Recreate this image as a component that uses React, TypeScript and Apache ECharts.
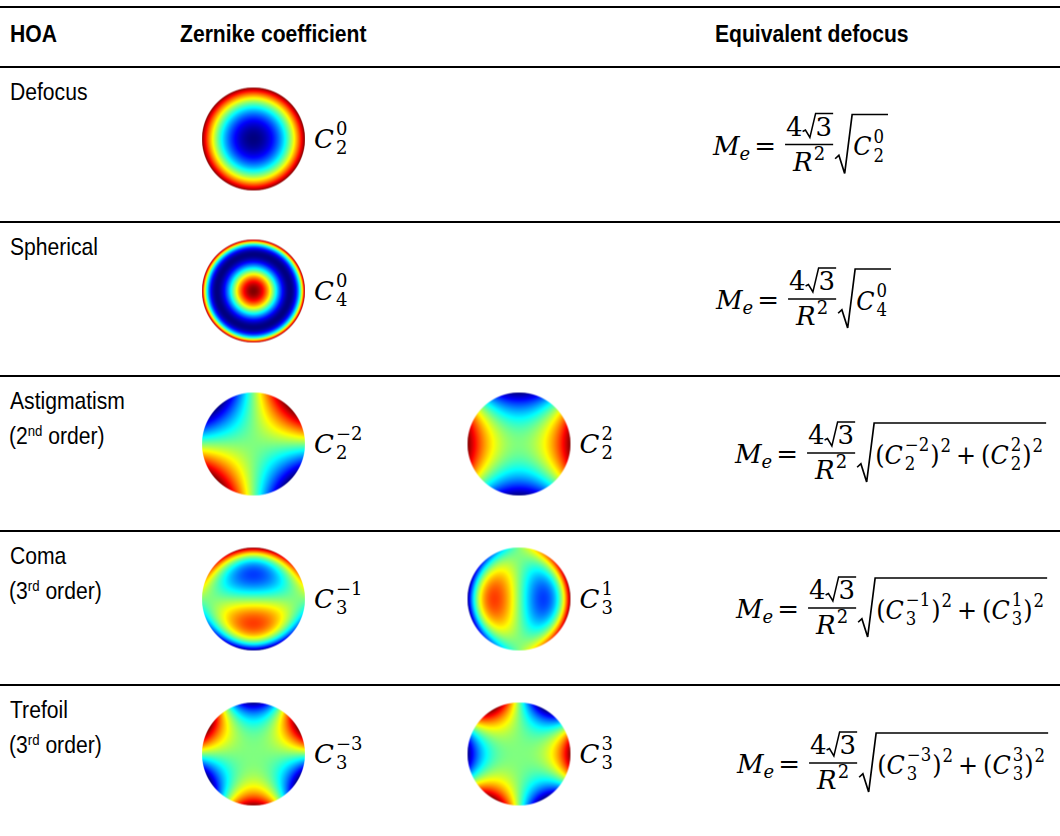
import React, { useEffect, useRef } from "react";
import * as echarts from "echarts";

// ---------------- data ----------------
const HEADERS = ["HOA", "Zernike coefficient", "Equivalent defocus"];
const HOA_NAMES = ["Defocus", "Spherical", "Astigmatism", "Coma", "Trefoil"];
const ORDER_NUMBERS = ["", "", "2", "3", "3"];
const ORDER_SUFFIXES = ["", "", "nd", "rd", "rd"];
const ORDER_WORD = " order)";
// Zernike indices (n, m) shown in each row
const ZERNIKE_N = [[2], [4], [2, 2], [3, 3], [3, 3]];
const ZERNIKE_M = [[0], [0], [-2, 2], [-1, 1], [-3, 3]];
// equivalent defocus formula pieces
const MEQ_SYMBOL = "M";
const MEQ_SUB = "e";
const FRAC_NUM = ["4", "3"];
const FRAC_DEN = ["R", "2"];
const COEF_SYMBOL = "C";

// ---------------- layout ----------------
const W = 1060;
const H = 836;
const RULE_Y = [7, 67, 222, 376, 531, 685];
const ROW_TOP = [67, 222, 376, 531, 685];
const ROW_MID = [144.5, 299, 453, 608, 763];
const HEADER_X = [10, 180, 715];
const HEADER_BASE = 42;
const DISK_CX = [253.5, 519];
const DISK_CY = [139, 291, 444, 599, 754];
const DISK_R = 51.5;
const FORMULA_X = [713, 716, 735, 736, 737];

const SERIF = '"DejaVu Serif", "Liberation Serif", serif';
const SANS = '"Liberation Sans", Arial, sans-serif';
const SANS_SCALE = 0.88;
const S = 26; // math main size
const s = 18; // math script size
const CONTENT_SCALE = 0.92;

function makeMeasure() {
  const c = document.createElement("canvas");
  const ctx = c.getContext("2d") as CanvasRenderingContext2D;
  return (text: string, size: number, family: string, italic = false, bold = false) => {
    ctx.font = `${italic ? "italic " : ""}${bold ? "bold " : ""}${size}px ${family}`;
    return ctx.measureText(text).width;
  };
}

function txt(
  text: string,
  x: number,
  base: number,
  size: number,
  family: string,
  italic = false,
  bold = false,
  sx = 1
) {
  const central = family === SERIF ? 0.346 : 0.3465;
  return {
    type: "text",
    x,
    y: base - central * size,
    scaleX: sx,
    silent: true,
    style: {
      text,
      fill: "#000",
      fontSize: size,
      fontFamily: family,
      fontStyle: italic ? "italic" : "normal",
      fontWeight: bold ? "bold" : "normal",
      align: "left",
      verticalAlign: "middle",
    },
  };
}

function hline(x1: number, x2: number, y: number, w: number) {
  return { type: "line", silent: true, shape: { x1, y1: y, x2, y2: y }, style: { stroke: "#000", lineWidth: w } };
}

function radical(xs: number, yTop: number, yBot: number, w: number, L: number, lw: number) {
  const h = yBot - yTop;
  return {
    type: "polyline",
    silent: true,
    shape: {
      points: [
        [xs, yTop + 0.75 * h],
        [xs + 0.22 * w, yTop + 0.69 * h],
        [xs + 0.56 * w, yBot],
        [xs + w, yTop],
        [xs + w + L, yTop],
      ],
    },
    style: { stroke: "#000", lineWidth: lw, fill: null, lineJoin: "miter" },
  };
}

const fact = (k: number): number => (k <= 1 ? 1 : k * fact(k - 1));
function zernikeValue(n: number, m: number, r: number, th: number) {
  const am = Math.abs(m);
  let R = 0;
  for (let k = 0; k <= (n - am) / 2; k++) {
    R +=
      (((k % 2 ? -1 : 1) * fact(n - k)) / (fact(k) * fact((n + am) / 2 - k) * fact((n - am) / 2 - k))) *
      Math.pow(r, n - 2 * k);
  }
  if (m > 0) return R * Math.cos(am * th);
  if (m < 0) return R * Math.sin(am * th);
  return R;
}
function jet(t: number) {
  const c = (v: number) => Math.max(0, Math.min(1, v));
  return [
    c(Math.min(4 * t - 1.5, -4 * t + 4.5)),
    c(Math.min(4 * t - 0.5, -4 * t + 3.5)),
    c(Math.min(4 * t + 0.5, -4 * t + 2.5)),
  ];
}
function zernikeImage(n: number, m: number, px: number) {
  const c = document.createElement("canvas");
  c.width = px;
  c.height = px;
  const ctx = c.getContext("2d") as CanvasRenderingContext2D;
  const img = ctx.createImageData(px, px);
  const half = px / 2;
  let lo = Infinity;
  let hi = -Infinity;
  for (let j = 0; j < px; j++) {
    for (let i = 0; i < px; i++) {
      const X = (i + 0.5 - half) / half;
      const Y = (half - (j + 0.5)) / half;
      const r = Math.hypot(X, Y);
      if (r <= 1) {
        const v = zernikeValue(n, m, r, Math.atan2(Y, X));
        if (v < lo) lo = v;
        if (v > hi) hi = v;
      }
    }
  }
  for (let j = 0; j < px; j++) {
    for (let i = 0; i < px; i++) {
      const X = (i + 0.5 - half) / half;
      const Y = (half - (j + 0.5)) / half;
      const r = Math.hypot(X, Y);
      const a = Math.max(0, Math.min(1, (1 - r) * half * 0.6 + 0.5));
      const idx = (j * px + i) * 4;
      if (a <= 0) continue;
      const v = zernikeValue(n, m, Math.min(r, 1), Math.atan2(Y, X));
      const [R, G, B] = jet((v - lo) / (hi - lo));
      img.data[idx] = R * 255;
      img.data[idx + 1] = G * 255;
      img.data[idx + 2] = B * 255;
      img.data[idx + 3] = a * 255;
    }
  }
  ctx.putImageData(img, 0, 0);
  return c.toDataURL();
}

function supText(m: number) {
  return m < 0 ? "\u2212" + Math.abs(m) : String(m);
}

function buildElements() {
  const measure = makeMeasure();
  const els: any[] = [];
  const put = (t: string, x: number, b: number, size: number, italic: boolean, sx = 1) => {
    els.push(txt(t, x, b, size, SERIF, italic, false, sx));
    return measure(t, size, SERIF, italic) * sx;
  };
  // stacked superscript over subscript, as one two-line text
  const stack = (sup: string, sub: string, x: number, b: number, sx = 1) => {
    els.push({
      type: "text",
      x,
      y: b - 9.73,
      scaleX: sx,
      silent: true,
      style: {
        text: sup + "\n" + sub,
        fill: "#000",
        fontSize: s,
        fontFamily: SERIF,
        lineHeight: 19,
        align: "left",
        verticalAlign: "middle",
      },
    });
    return Math.max(measure(sup, s, SERIF), measure(sub, s, SERIF)) * sx;
  };
  const sansW = (t: string, size: number, bold = false) => measure(t, size, SANS, false, bold) * SANS_SCALE;

  // rules
  RULE_Y.forEach((y) => els.push(hline(0, W, y, 2.2)));

  // headers
  HEADERS.forEach((h, i) => els.push(txt(h, HEADER_X[i], HEADER_BASE, 24, SANS, false, true, SANS_SCALE)));

  ROW_TOP.forEach((top, r) => {
    // row label
    const b1 = top + 33;
    els.push(txt(HOA_NAMES[r], 10, b1, 24, SANS, false, false, SANS_SCALE));
    if (ORDER_NUMBERS[r]) {
      const b2 = top + 68;
      let x = 9;
      const p1 = "(" + ORDER_NUMBERS[r];
      els.push(txt(p1, x, b2, 24, SANS, false, false, SANS_SCALE));
      x += sansW(p1, 24);
      els.push(txt(ORDER_SUFFIXES[r], x, b2 - 8, 15, SANS, false, false, SANS_SCALE));
      x += sansW(ORDER_SUFFIXES[r], 15);
      els.push(txt(ORDER_WORD, x, b2, 24, SANS, false, false, SANS_SCALE));
    }

    // disks + coefficient labels
    ZERNIKE_N[r].forEach((n, k) => {
      const m = ZERNIKE_M[r][k];
      const cx = DISK_CX[k];
      const cy = DISK_CY[r];
      els.push({
        type: "image",
        silent: true,
        style: {
          image: zernikeImage(n, m, 206),
          x: cx - DISK_R,
          y: cy - DISK_R,
          width: DISK_R * 2,
          height: DISK_R * 2,
        },
      });
      const lx = cx + DISK_R + 9;
      const lb = cy + 9;
      const wc = put(COEF_SYMBOL, lx, lb, S, true);
      stack(supText(m), String(n), lx + wc + 2, lb);
    });

    // formula
    const bar = ROW_MID[r];
    const base = bar + 10;
    let x = FORMULA_X[r];
    x += put(MEQ_SYMBOL, x, base, S, true);
    x += put(MEQ_SUB, x, base + 5, s, true);
    x += 4;
    x += put("=", x, base, S, false);
    x += 9;
    const w4 = measure(FRAC_NUM[0], S, SERIF);
    const w3 = measure(FRAC_NUM[1], S, SERIF);
    const rw = 13;
    const numW = w4 + rw + w3;
    const wR = measure(FRAC_DEN[0], S, SERIF, true);
    const w2 = measure(FRAC_DEN[1], s, SERIF);
    const denW = wR + 1 + w2;
    const fw = Math.max(numW, denW) + 2;
    const nx = x + (fw - numW) / 2;
    const nb = bar - 9;
    put(FRAC_NUM[0], nx, nb, S, false);
    els.push(radical(nx + w4, nb - 22, nb + 2, rw, w3 + 1, 1.5));
    put(FRAC_NUM[1], nx + w4 + rw, nb, S, false);
    els.push(hline(x, x + fw, bar, 1.7));
    const dx = x + (fw - denW) / 2;
    const db = bar + 26;
    put(FRAC_DEN[0], dx, db, S, true);
    put(FRAC_DEN[1], dx + wR + 1, db - 11, s, false);
    x += fw + 2;

    const bigW = 17;
    const c0 = x + bigW + 1;
    const cb = bar + 11;
    const k = CONTENT_SCALE;
    let cx = c0;
    const coef = (n: number, m: number) => {
      cx += put(COEF_SYMBOL, cx, cb, S, true, k) + 2;
      cx += stack(supText(m), String(n), cx, cb, k) + 1;
    };
    const ns = ZERNIKE_N[r];
    if (ns.length === 1) {
      coef(ns[0], ZERNIKE_M[r][0]);
    } else {
      ns.forEach((n, i) => {
        if (i > 0) {
          cx += 5;
          cx += put("+", cx, cb, S, false, k);
          cx += 5;
        }
        cx += put("(", cx, cb, S, false, k);
        coef(n, ZERNIKE_M[r][i]);
        cx += put(")", cx, cb, S, false, k);
        cx += put("2", cx + 1, cb - 12, s, false, k) + 1;
      });
    }
    els.push(radical(x, bar - 30, bar + 29, bigW, cx - c0 + 4, 1.7));
  });
  return els;
}

export default function App() {
  const ref = useRef<HTMLDivElement>(null);
  useEffect(() => {
    if (!ref.current) return;
    const chart = echarts.init(ref.current, null, { renderer: "svg", width: W, height: H });
    chart.setOption({
      animation: false,
      backgroundColor: "#ffffff",
      graphic: { elements: buildElements() },
    });
    return () => chart.dispose();
  }, []);
  return <div ref={ref} style={{ position: "absolute", left: 0, top: 0, width: W, height: H }} />;
}
